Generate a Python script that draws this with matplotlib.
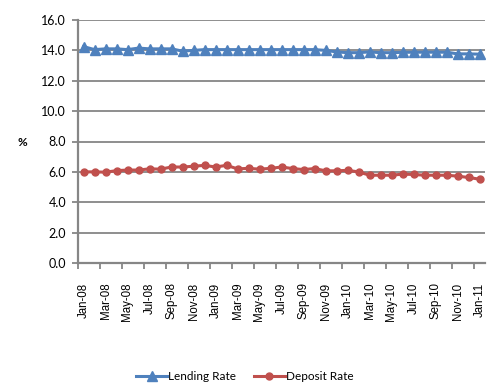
import matplotlib
matplotlib.use("Agg")
import matplotlib.pyplot as plt
from matplotlib.lines import Line2D

months = ["Jan-08", "Feb-08", "Mar-08", "Apr-08", "May-08", "Jun-08", "Jul-08", "Aug-08",
          "Sep-08", "Oct-08", "Nov-08", "Dec-08", "Jan-09", "Feb-09", "Mar-09", "Apr-09",
          "May-09", "Jun-09", "Jul-09", "Aug-09", "Sep-09", "Oct-09", "Nov-09", "Dec-09",
          "Jan-10", "Feb-10", "Mar-10", "Apr-10", "May-10", "Jun-10", "Jul-10", "Aug-10",
          "Sep-10", "Oct-10", "Nov-10", "Dec-10", "Jan-11"]

lending_rate = [14.25, 14.05, 14.10, 14.10, 14.05, 14.15, 14.10, 14.10, 14.10, 13.95,
                14.00, 14.05, 14.05, 14.05, 14.05, 14.05, 14.05, 14.05, 14.05, 14.05,
                14.05, 14.05, 14.00, 13.90, 13.85, 13.85, 13.90, 13.85, 13.85, 13.87,
                13.88, 13.88, 13.88, 13.88, 13.77, 13.77, 13.75]

deposit_rate = [6.00, 6.00, 5.98, 6.08, 6.12, 6.12, 6.20, 6.18, 6.32, 6.32,
                6.37, 6.43, 6.32, 6.43, 6.20, 6.23, 6.18, 6.23, 6.32, 6.22,
                6.15, 6.22, 6.07, 6.07, 6.10, 6.00, 5.78, 5.78, 5.78, 5.85,
                5.83, 5.78, 5.78, 5.78, 5.72, 5.63, 5.52]

y_ticks = [0.0, 2.0, 4.0, 6.0, 8.0, 10.0, 12.0, 14.0, 16.0]

BLUE = "#4F81BD"
RED = "#C0504D"
GREY = "#868686"

fig = plt.figure(figsize=(4.87, 3.83), dpi=100)
ax = fig.add_axes([78 / 487, 1 - 263 / 383, (485 - 78) / 487, (263 - 20) / 383])

x = list(range(len(months)))
ax.plot(x, lending_rate, color=BLUE, lw=2.2, marker="^", ms=7.5, mec=BLUE, mfc=BLUE,
        zorder=3, label="Lending Rate")
ax.plot(x, deposit_rate, color=RED, lw=2.2, marker="o", ms=5, mec=RED, mfc=RED,
        zorder=3, label="Deposit Rate")

ax.set_xlim(-0.5, len(months) - 0.5)
ax.set_ylim(0, 16)

# horizontal gridlines at every value tick
ax.set_yticks(y_ticks)
ax.set_yticklabels([f"{v:.1f}" for v in y_ticks], fontname="Lato", fontsize=9)
ax.yaxis.grid(True, color=GREY, lw=1.3, zorder=1)
ax.set_axisbelow(True)
ax.tick_params(axis="y", length=4.5, width=1.3, color=GREY, pad=4)

# category boundaries carry the tick marks, labels sit at category centres
ax.set_xticks([i - 0.5 for i in range(0, len(months), 2)])
ax.set_xticklabels([])
ax.set_xticks(list(range(0, len(months), 2)), minor=True)
ax.set_xticklabels(months[::2], minor=True, rotation=90, fontname="Liberation Sans",
                   fontsize=8.3)
ax.tick_params(axis="x", which="major", length=4, width=1.3, color=GREY)
ax.tick_params(axis="x", which="minor", length=0, pad=14)

for side in ("top", "right"):
    ax.spines[side].set_visible(False)
for side in ("left", "bottom"):
    ax.spines[side].set_color(GREY)
    ax.spines[side].set_linewidth(1.6)

fig.text(22 / 487, 1 - 143 / 383, "%", fontname="Lato", fontsize=8.5,
         fontweight="bold", ha="center", va="center")

handles = [
    Line2D([], [], color=BLUE, lw=2.2, marker="^", ms=7.5),
    Line2D([], [], color=RED, lw=2.2, marker="o", ms=5),
]
fig.legend(handles, ["Lending Rate", "Deposit Rate"], loc="center",
           bbox_to_anchor=(245 / 487, 1 - 377 / 383), ncol=2, frameon=False,
           prop={"family": "Lato", "size": 8.5}, handlelength=2.6, handletextpad=0.1,
           columnspacing=1.5, borderaxespad=0)

fig.savefig("out.png", dpi=100)
